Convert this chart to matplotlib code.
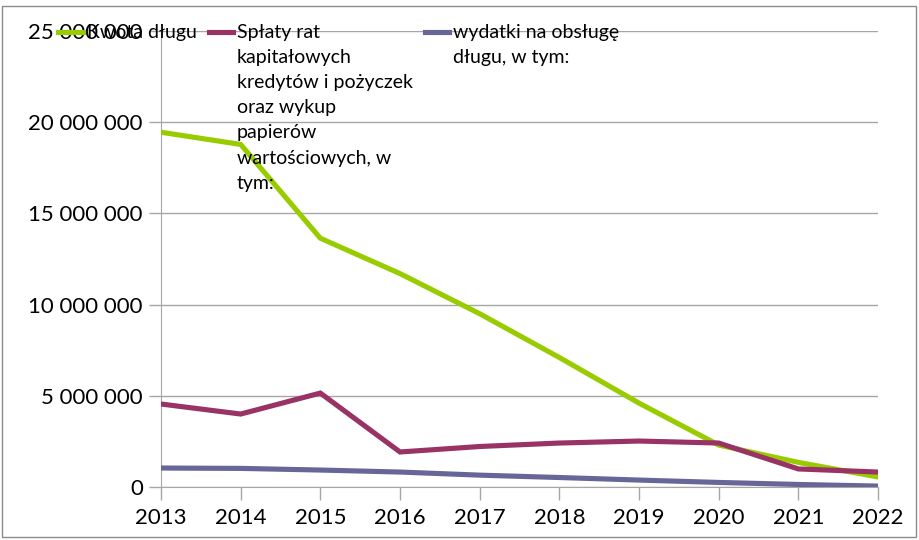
import matplotlib.pyplot as plt
from matplotlib.lines import Line2D
from matplotlib.patches import Rectangle
from matplotlib.ticker import FuncFormatter, MultipleLocator

plt.rcParams["font.family"] = ["Lato", "DejaVu Sans"]

years = [2013, 2014, 2015, 2016, 2017, 2018, 2019, 2020, 2021, 2022]
kwota_dlugu = [19.45e6, 18.78e6, 13.64e6, 11.70e6, 9.50e6, 7.10e6, 4.60e6, 2.30e6, 1.35e6, 0.55e6]
splaty_rat = [4.55e6, 4.00e6, 5.15e6, 1.92e6, 2.22e6, 2.41e6, 2.52e6, 2.41e6, 0.99e6, 0.82e6]
wydatki_obsluga = [1.04e6, 1.02e6, 0.93e6, 0.82e6, 0.65e6, 0.52e6, 0.38e6, 0.25e6, 0.14e6, 0.05e6]

labels = [
    "Kwota długu",
    "Spłaty rat\nkapitałowych\nkredytów i pożyczek\noraz wykup\npapierów\nwartościowych, w\ntym:",
    "wydatki na obsługę\ndługu, w tym:",
]
colors = ["#99CC00", "#993366", "#666699"]
series = [kwota_dlugu, splaty_rat, wydatki_obsluga]

W, H = 919, 540
fig = plt.figure(figsize=(W / 100, H / 100), dpi=100)
fig.patches.append(Rectangle((2 / W, 3 / H), 914 / W, 531 / H, transform=fig.transFigure,
                             fill=False, edgecolor="#8c8c8c", linewidth=1))
ax = fig.add_axes([161 / W, 1 - 487 / H, 717 / W, 456 / H])

for vals, col in zip(series, colors):
    ax.plot(years, vals, color=col, linewidth=3.7, solid_joinstyle="miter", zorder=3)

ax.set_xlim(years[0], years[-1])
ax.set_ylim(0, 25e6)
ax.set_xticks(years)
ax.yaxis.set_major_locator(MultipleLocator(5e6))
ax.yaxis.set_major_formatter(FuncFormatter(lambda v, p: f"{int(v):,}".replace(",", " ")))
ax.grid(axis="y", color="#a6a6a6", linewidth=1)
ax.set_axisbelow(True)
for s in ["top", "right"]:
    ax.spines[s].set_visible(False)
for s in ["left", "bottom"]:
    ax.spines[s].set_color("#a6a6a6")
ax.tick_params(axis="both", colors="#a6a6a6", labelcolor="black", length=9, width=1,
               labelsize=16)
ax.tick_params(axis="x", pad=6)
ax.tick_params(axis="y", pad=4)

# legend drawn across the top, handles aligned with the first text line
leg_x = [(58, 83, 87), (209, 233, 237), (425, 449, 453)]
y_leg = 1 - 32 / H
for (x0, x1, xt), lab, col in zip(leg_x, labels, colors):
    fig.add_artist(Line2D([x0 / W, x1 / W], [y_leg, y_leg], transform=fig.transFigure,
                          color=col, linewidth=3.7, zorder=5))
    fig.text(xt / W, 1 - 24 / H, lab, fontsize=14, va="top", ha="left",
             linespacing=1.58, zorder=6)

fig.savefig("out.png", dpi=100)
